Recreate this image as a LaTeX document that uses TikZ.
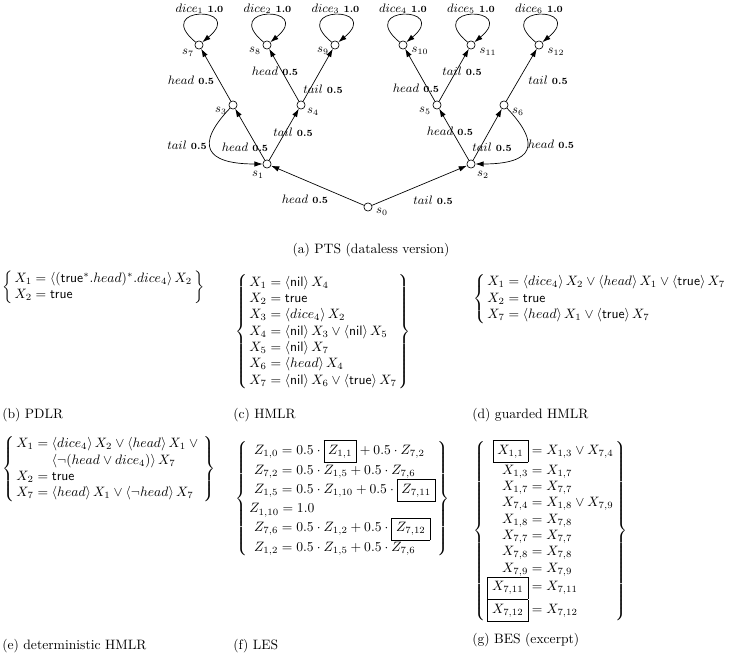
\documentclass[tikz,border=0pt]{standalone}
\usetikzlibrary{arrows.meta}
\newcommand{\mydia}[1]{\langle #1\rangle}
\newcommand{\mtrue}{\mathsf{true}}
\newcommand{\mnil}{\mathsf{nil}}
\setlength{\arraycolsep}{1.5pt}
\begin{document}
\begin{tikzpicture}[x=0.735pt,y=-0.735pt,
  st/.style={circle,draw,minimum size=6pt,inner sep=0pt,line width=0.5pt},
  arr/.style={-{Latex[length=6pt,width=4pt]},line width=0.5pt},
  lab/.style={font=\small,inner sep=0pt},
  sl/.style={font=\small,inner sep=0pt},
  eq/.style={anchor=west,inner sep=0pt},
  captxt/.style={anchor=base west,inner sep=0pt}]
\useasboundingbox (0,0) rectangle (730,657);
% states
\node[st] (s0) at (368,207) {};
\node[st] (s1) at (267,164) {};
\node[st] (s2) at (471,164) {};
\node[st] (s3) at (233,105) {};
\node[st] (s4) at (301,105) {};
\node[st] (s5) at (437,105) {};
\node[st] (s6) at (504,105) {};
\node[st] (s7) at (199,45) {};
\node[st] (s8) at (267,45) {};
\node[st] (s9) at (335,45) {};
\node[st] (s10) at (403,45) {};
\node[st] (s11) at (471,45) {};
\node[st] (s12) at (539,45) {};
% state labels
\node[sl] (ls0) at (382,212) {$s_0$};
\node[sl] (ls1) at (258,175) {$s_1$};
\node[sl] (ls2) at (483,175) {$s_2$};
\node[sl] (ls3) at (221,111) {$s_3$};
\node[sl] (ls4) at (313,112) {$s_4$};
\node[sl] (ls5) at (425,111) {$s_5$};
\node[sl] (ls6) at (518,112) {$s_6$};
\node[sl] (ls7) at (188,53) {$s_7$};
\node[sl] (ls8) at (255,51) {$s_8$};
\node[sl] (ls9) at (323,51) {$s_9$};
\node[sl] (ls10) at (420,51) {$s_{10}$};
\node[sl] (ls11) at (488,52) {$s_{11}$};
\node[sl] (ls12) at (556,52) {$s_{12}$};
% transitions
\draw[arr] (s0) -- (s1);
\draw[arr] (s0) -- (s2);
\draw[arr] (s1) -- (s3);
\draw[arr] (s1) -- (s4);
\draw[arr] (s3) .. controls +(-38,40) and +(-62,0) .. (s1);
\draw[arr] (s2) -- (s5);
\draw[arr] (s2) -- (s6);
\draw[arr] (s6) .. controls +(38,40) and +(62,0) .. (s2);
\draw[arr] (s3) -- (s7);
\draw[arr] (s4) -- (s8);
\draw[arr] (s4) -- (s9);
\draw[arr] (s5) -- (s10);
\draw[arr] (s5) -- (s11);
\draw[arr] (s6) -- (s12);
\foreach \n in {7,...,12}
  \draw[arr] (s\n) .. controls +(-35pt,29pt) and +(35pt,29pt) .. (s\n);
% transition labels
\node[lab] (l01) at (305,199) {$head$ {\scriptsize\bfseries 0.5}};
\node[lab] (l02) at (433,200) {$tail$ {\scriptsize\bfseries 0.5}};
\node[lab] (l13) at (245,147) {$head$ {\scriptsize\bfseries 0.5}};
\node[lab] (l31) at (187,145) {$tail$ {\scriptsize\bfseries 0.5}};
\node[lab] (l14) at (293,132) {$tail$ {\scriptsize\bfseries 0.5}};
\node[lab] (l37) at (191,80) {$head$ {\scriptsize\bfseries 0.5}};
\node[lab] (l48) at (275,71) {$head$ {\scriptsize\bfseries 0.5}};
\node[lab] (l49) at (323,89) {$tail$ {\scriptsize\bfseries 0.5}};
\node[lab] (l25) at (450,131) {$head$ {\scriptsize\bfseries 0.5}};
\node[lab] (l26) at (492,147) {$tail$ {\scriptsize\bfseries 0.5}};
\node[lab] (l62) at (551,144) {$head$ {\scriptsize\bfseries 0.5}};
\node[lab] (l510) at (416,88) {$head$ {\scriptsize\bfseries 0.5}};
\node[lab] (l511) at (462,71) {$tail$ {\scriptsize\bfseries 0.5}};
\node[lab] (l612) at (548,80) {$tail$ {\scriptsize\bfseries 0.5}};
\node[lab] (d1) at (199.5,9) {$dice_1$ {\scriptsize\bfseries 1.0}};
\node[lab] (d2) at (267.5,9) {$dice_2$ {\scriptsize\bfseries 1.0}};
\node[lab] (d3) at (335.5,9) {$dice_3$ {\scriptsize\bfseries 1.0}};
\node[lab] (d4) at (403,9) {$dice_4$ {\scriptsize\bfseries 1.0}};
\node[lab] (d5) at (471,9) {$dice_5$ {\scriptsize\bfseries 1.0}};
\node[lab] (d6) at (539,9) {$dice_6$ {\scriptsize\bfseries 1.0}};
% captions
\node[captxt,anchor=base] (capa) at (371,253) {(a) PTS (dataless version)};
\node[captxt] (capb) at (2,418) {(b) PDLR};
\node[captxt] (capc) at (233,418) {(c) HMLR};
\node[captxt] (capd) at (472,418) {(d) guarded HMLR};
\node[captxt] (cape) at (2,649) {(e) deterministic HMLR};
\node[captxt] (capf) at (233,649) {(f) LES};
\node[captxt] (capg) at (472,643) {(g) BES (excerpt)};
% equation systems
\node[eq] (pdlr) at (2,287) {$\left\{\begin{array}{l}
X_1 = \mydia{(\mtrue^*.head)^*.dice_4}\, X_2\\
X_2 = \mtrue
\end{array}\right\}$};
\node[eq] (hmlr) at (235,332) {$\left\{\begin{array}{l}
X_1 = \mydia{\mnil}\, X_4\\
X_2 = \mtrue\\
X_3 = \mydia{dice_4}\, X_2\\
X_4 = \mydia{\mnil}\, X_3 \vee \mydia{\mnil}\, X_5\\
X_5 = \mydia{\mnil}\, X_7\\
X_6 = \mydia{head}\, X_4\\
X_7 = \mydia{\mnil}\, X_6 \vee \mydia{\mtrue}\, X_7
\end{array}\right\}$};
\node[eq] (ghmlr) at (473,299) {$\left\{\begin{array}{l}
X_1 = \mydia{dice_4}\, X_2 \vee \mydia{head}\, X_1 \vee \mydia{\mtrue}\, X_7\\
X_2 = \mtrue\\
X_7 = \mydia{head}\, X_1 \vee \mydia{\mtrue}\, X_7
\end{array}\right.$};
\node[eq] (dhmlr) at (2,469) {$\left\{\begin{array}{l}
X_1 = \mydia{dice_4}\, X_2 \vee \mydia{head}\, X_1 \vee {}\\
\hphantom{X_1 = {}}\mydia{\neg(head \vee dice_4)}\, X_7\\
X_2 = \mtrue\\
X_7 = \mydia{head}\, X_1 \vee \mydia{\neg head}\, X_7
\end{array}\right\}$};
\node[eq] (les) at (235,498.5) {$\left\{\begin{array}{l}
\hspace{3.5pt}Z_{1,0} = 0.5\cdot \fbox{$Z_{1,1}$} + 0.5\cdot Z_{7,2}\\
\hspace{3.5pt}Z_{7,2} = 0.5\cdot Z_{1,5} + 0.5\cdot Z_{7,6}\\
\hspace{3.5pt}Z_{1,5} = 0.5\cdot Z_{1,10} + 0.5\cdot \fbox{$Z_{7,11}$}\\
Z_{1,10} = 1.0\\
\hspace{3.5pt}Z_{7,6} = 0.5\cdot Z_{1,2} + 0.5\cdot \fbox{$Z_{7,12}$}\\
\hspace{3.5pt}Z_{1,2} = 0.5\cdot Z_{1,5} + 0.5\cdot Z_{7,6}
\end{array}\right\}$};
\node[eq] (bes) at (473,531) {$\left\{\begin{array}{r@{}l}
\fbox{$X_{1,1}$} & {}= X_{1,3}\vee X_{7,4}\\
X_{1,3} & {}= X_{1,7}\\
X_{1,7} & {}= X_{7,7}\\
X_{7,4} & {}= X_{1,8}\vee X_{7,9}\\
X_{1,8} & {}= X_{7,8}\\
X_{7,7} & {}= X_{7,7}\\
X_{7,8} & {}= X_{7,8}\\
X_{7,9} & {}= X_{7,9}\\
\fbox{$X_{7,11}$} & {}= X_{7,11}\\
\fbox{$X_{7,12}$} & {}= X_{7,12}
\end{array}\right\}$};
\end{tikzpicture}
\end{document}
